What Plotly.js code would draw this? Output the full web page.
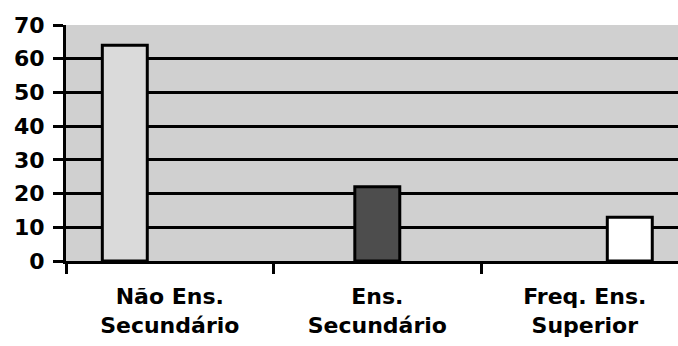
<!DOCTYPE html>
<html>
<head>
<meta charset="utf-8">
<script src="https://cdn.plot.ly/plotly-3.0.1.min.js"></script>
<style>html,body{margin:0;padding:0;background:#fff;}#chart{width:678px;height:346px;}</style>
</head>
<body>
<div id="chart"></div>
<script>
const categories = ["Não Ens. Secundário", "Ens. Secundário", "Freq. Ens. Superior"];
const tickLabels = ["Não Ens.<br>Secundário", "Ens.<br>Secundário", "Freq. Ens.<br>Superior"];
const seriesNames = ["Não Ens. Secundário", "Ens. Secundário", "Freq. Ens. Superior"];
const naoEnsSecundario = [64, null, null];
const ensSecundario = [null, 22, null];
const freqEnsSuperior = [null, null, 13];
const yTicks = [0, 10, 20, 30, 40, 50, 60, 70];

const colors = ["#dadada", "#4d4d4d", "#ffffff"];
const seriesValues = [naoEnsSecundario, ensSecundario, freqEnsSuperior];

const traces = seriesValues.map((vals, i) => ({
  type: "bar",
  name: seriesNames[i],
  x: categories,
  y: vals,
  marker: { color: colors[i], line: { color: "#000", width: 3 } },
  hoverinfo: "skip"
}));

const layout = {
  width: 678, height: 346,
  margin: { l: 66, r: 0, t: 25, b: 85 },
  paper_bgcolor: "#ffffff",
  plot_bgcolor: "#d0d0d0",
  showlegend: false,
  barmode: "group",
  bargap: 0.35,
  bargroupgap: 0,
  font: { family: "DejaVu Sans, sans-serif", color: "#000" },
  xaxis: {
    type: "category",
    range: [-0.5, 2.449],
    tickmode: "array",
    tickvals: categories,
    ticktext: tickLabels,
    tickson: "boundaries",
    ticks: "outside", ticklen: 10, tickwidth: 3, tickcolor: "#000",
    showline: true, linecolor: "#000", linewidth: 3,
    showgrid: false, zeroline: false,
    tickfont: { family: "DejaVu Sans, sans-serif", size: 22, weight: "bold", color: "#000" },
    ticklabelstandoff: 14
  },
  yaxis: {
    range: [0, 70],
    tickmode: "array",
    tickvals: yTicks,
    ticks: "outside", ticklen: 10, tickwidth: 3, tickcolor: "#000",
    showline: true, linecolor: "#000", linewidth: 3,
    showgrid: true, gridcolor: "#000", gridwidth: 3,
    zeroline: false,
    tickfont: { family: "DejaVu Sans, sans-serif", size: 22, weight: "bold", color: "#000" },
    ticklabelstandoff: 4
  }
};

Plotly.newPlot("chart", traces, layout, { staticPlot: true, displayModeBar: false });
</script>
</body>
</html>
